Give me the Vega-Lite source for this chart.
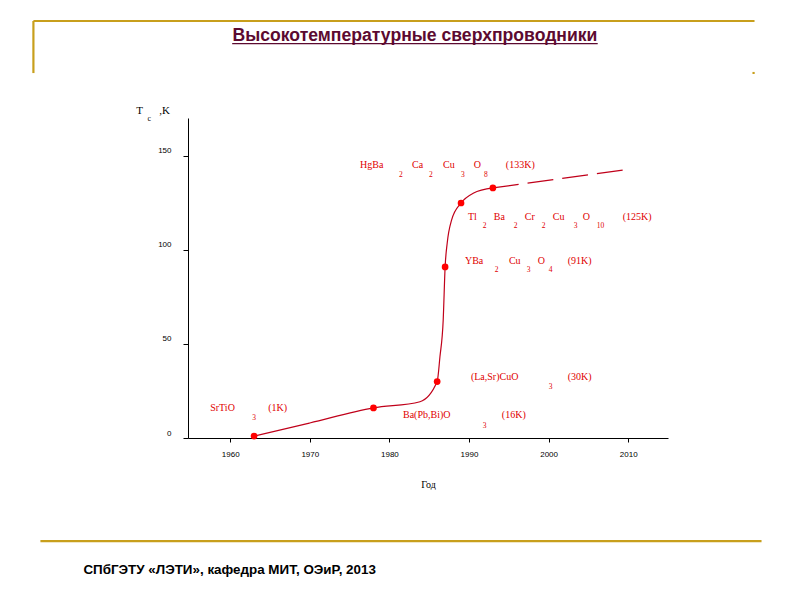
{
  "$schema": "https://vega.github.io/schema/vega-lite/v6.json",
  "width": 480,
  "height": 320,
  "autosize": {"type": "none"},
  "padding": {"left": 188, "top": 118, "right": 132, "bottom": 162},
  "background": "white",
  "view": {"stroke": null},
  "datasets": {
    "curve": [
      {"year": 1963, "tc": 1, "key": true},
      {"year": 1970, "tc": 8, "key": false},
      {"year": 1978, "tc": 16, "key": true},
      {"year": 1983.84, "tc": 19.3, "key": false},
      {"year": 1986, "tc": 30, "key": true},
      {"year": 1986.35, "tc": 43.2, "key": false},
      {"year": 1986.76, "tc": 62.8, "key": false},
      {"year": 1987, "tc": 91, "key": true},
      {"year": 1987.26, "tc": 103.6, "key": false},
      {"year": 1987.82, "tc": 116.0, "key": false},
      {"year": 1989, "tc": 125, "key": true},
      {"year": 1990.53, "tc": 130.2, "key": false},
      {"year": 1993, "tc": 133, "key": true}
    ],
    "trend": [
      {"year": 1993, "tc": 133},
      {"year": 2010.2, "tc": 143}
    ],
    "frame": [
      {"part": "gold", "year": 1935.28, "year2": 2025.87, "tc": 221.8, "tc2": 221.8},
      {"part": "gold", "year": 1935.28, "year2": 1935.28, "tc": 221.8, "tc2": 194.1},
      {"part": "gold", "year": 2025.75, "year2": 2025.75, "tc": 194.7, "tc2": 193.6},
      {"part": "gold", "year": 1936.16, "year2": 2026.75, "tc": -54.8, "tc2": -54.8},
      {"part": "underline", "year": 1960.25, "year2": 2006.17, "tc": 209.8, "tc2": 209.8}
    ],
    "labels": [
      {"kind": "main", "text": "HgBa", "year": 1976.31, "tc": 145.2},
      {"kind": "sub", "text": "2", "year": 1981.2, "tc": 139.9},
      {"kind": "main", "text": "Ca", "year": 1982.84, "tc": 145.2},
      {"kind": "sub", "text": "2", "year": 1984.97, "tc": 139.9},
      {"kind": "main", "text": "Cu", "year": 1986.73, "tc": 145.2},
      {"kind": "sub", "text": "3", "year": 1988.98, "tc": 139.9},
      {"kind": "main", "text": "O", "year": 1990.61, "tc": 145.2},
      {"kind": "sub", "text": "8", "year": 1991.87, "tc": 139.9},
      {"kind": "main", "text": "(133K)", "year": 1994.63, "tc": 145.2},

      {"kind": "main", "text": "Tl", "year": 1989.86, "tc": 117.6},
      {"kind": "sub", "text": "2", "year": 1991.74, "tc": 112.8},
      {"kind": "main", "text": "Ba", "year": 1993.12, "tc": 117.6},
      {"kind": "sub", "text": "2", "year": 1995.63, "tc": 112.8},
      {"kind": "main", "text": "Cr", "year": 1997.01, "tc": 117.6},
      {"kind": "sub", "text": "2", "year": 1999.15, "tc": 112.8},
      {"kind": "main", "text": "Cu", "year": 2000.53, "tc": 117.6},
      {"kind": "sub", "text": "3", "year": 2003.16, "tc": 112.8},
      {"kind": "main", "text": "O", "year": 2004.29, "tc": 117.6},
      {"kind": "sub", "text": "10", "year": 2006.05, "tc": 112.8},
      {"kind": "main", "text": "(125K)", "year": 2009.31, "tc": 117.6},

      {"kind": "main", "text": "YBa", "year": 1989.49, "tc": 94.1},
      {"kind": "sub", "text": "2", "year": 1993.25, "tc": 89.4},
      {"kind": "main", "text": "Cu", "year": 1995.01, "tc": 94.1},
      {"kind": "sub", "text": "3", "year": 1997.26, "tc": 89.4},
      {"kind": "main", "text": "O", "year": 1998.64, "tc": 94.1},
      {"kind": "sub", "text": "4", "year": 2000.03, "tc": 89.4},
      {"kind": "main", "text": "(91K)", "year": 2002.41, "tc": 94.1},

      {"kind": "main", "text": "(La,Sr)CuO", "year": 1990.24, "tc": 32.4},
      {"kind": "sub", "text": "3", "year": 2000.03, "tc": 27.1},
      {"kind": "main", "text": "(30K)", "year": 2002.41, "tc": 32.4},

      {"kind": "main", "text": "Ba(Pb,Bi)O", "year": 1981.71, "tc": 12.2},
      {"kind": "sub", "text": "3", "year": 1991.74, "tc": 6.4},
      {"kind": "main", "text": "(16K)", "year": 1994.13, "tc": 12.2},

      {"kind": "main", "text": "SrTiO", "year": 1957.49, "tc": 16.0},
      {"kind": "sub", "text": "3", "year": 1962.76, "tc": 10.6},
      {"kind": "main", "text": "(1K)", "year": 1964.77, "tc": 16.0},

      {"kind": "axismain", "text": "T", "year": 1948.21, "tc": 173.9},
      {"kind": "axissub", "text": "c", "year": 1949.6, "tc": 169.7},
      {"kind": "axismain", "text": ",K", "year": 1951.1, "tc": 173.9},

      {"kind": "title", "text": "Высокотемпературные сверхпроводники", "year": 1983.21, "tc": 213.8},
      {"kind": "footer", "text": "СПбГЭТУ «ЛЭТИ», кафедра МИТ, ОЭиР, 2013", "year": 1941.56, "tc": -70.2}
    ]
  },
  "encoding": {
    "x": {
      "field": "year",
      "type": "quantitative",
      "scale": {"domain": [1954.7, 2015], "nice": false, "zero": false},
      "axis": {
        "values": [1960, 1970, 1980, 1990, 2000, 2010],
        "format": "d",
        "title": "Год",
        "grid": false,
        "domainColor": "black",
        "tickColor": "black",
        "tickSize": 4,
        "labelFont": "Liberation Sans",
        "labelFontSize": 8,
        "labelColor": "black",
        "labelPadding": 8,
        "titleFont": "Liberation Serif",
        "titleFontSize": 10,
        "titleFontWeight": "normal",
        "titleColor": "black",
        "titlePadding": 21
      }
    },
    "y": {
      "field": "tc",
      "type": "quantitative",
      "scale": {"domain": [0, 170.2], "nice": false, "zero": false},
      "axis": {
        "values": [0, 50, 100, 150],
        "title": null,
        "grid": false,
        "domainColor": "black",
        "tickColor": "black",
        "tickSize": 5,
        "labelFont": "Liberation Sans",
        "labelFontSize": 8,
        "labelColor": "black",
        "labelPadding": 12,
        "labelOffset": -5
      }
    }
  },
  "layer": [
    {
      "data": {"name": "frame"},
      "transform": [{"filter": "datum.part === 'gold'"}],
      "mark": {"type": "rule", "color": "#c89f1c", "strokeWidth": 2.2},
      "encoding": {"x2": {"field": "year2"}, "y2": {"field": "tc2"}}
    },
    {
      "data": {"name": "frame"},
      "transform": [{"filter": "datum.part === 'underline'"}],
      "mark": {"type": "rule", "color": "#5c0a30", "strokeWidth": 1.3},
      "encoding": {"x2": {"field": "year2"}, "y2": {"field": "tc2"}}
    },
    {
      "data": {"name": "curve"},
      "mark": {"type": "line", "interpolate": "monotone", "color": "#c0001a", "strokeWidth": 1.2}
    },
    {
      "data": {"name": "trend"},
      "mark": {"type": "line", "color": "#c0001a", "strokeWidth": 1.2, "strokeDash": [26, 9]}
    },
    {
      "data": {"name": "curve"},
      "transform": [{"filter": "datum.key"}],
      "mark": {"type": "point", "filled": true, "color": "#ff0000", "opacity": 1, "size": 45}
    },
    {
      "data": {"name": "labels"},
      "transform": [{"filter": "datum.kind === 'main'"}],
      "mark": {"type": "text", "align": "left", "baseline": "middle", "font": "Liberation Serif", "fontSize": 10, "color": "#e00000"},
      "encoding": {"text": {"field": "text"}}
    },
    {
      "data": {"name": "labels"},
      "transform": [{"filter": "datum.kind === 'sub'"}],
      "mark": {"type": "text", "align": "left", "baseline": "middle", "font": "Liberation Serif", "fontSize": 7.5, "color": "#e00000"},
      "encoding": {"text": {"field": "text"}}
    },
    {
      "data": {"name": "labels"},
      "transform": [{"filter": "datum.kind === 'axismain'"}],
      "mark": {"type": "text", "align": "left", "baseline": "middle", "font": "Liberation Serif", "fontSize": 11, "color": "black"},
      "encoding": {"text": {"field": "text"}}
    },
    {
      "data": {"name": "labels"},
      "transform": [{"filter": "datum.kind === 'axissub'"}],
      "mark": {"type": "text", "align": "left", "baseline": "middle", "font": "Liberation Serif", "fontSize": 8, "color": "black"},
      "encoding": {"text": {"field": "text"}}
    },
    {
      "data": {"name": "labels"},
      "transform": [{"filter": "datum.kind === 'title'"}],
      "mark": {"type": "text", "align": "center", "baseline": "middle", "font": "Liberation Sans", "fontSize": 17.6, "fontWeight": "bold", "color": "#5c0a30"},
      "encoding": {"text": {"field": "text"}}
    },
    {
      "data": {"name": "labels"},
      "transform": [{"filter": "datum.kind === 'footer'"}],
      "mark": {"type": "text", "align": "left", "baseline": "middle", "font": "Liberation Sans", "fontSize": 13.4, "fontWeight": "bold", "color": "black"},
      "encoding": {"text": {"field": "text"}}
    }
  ]
}
